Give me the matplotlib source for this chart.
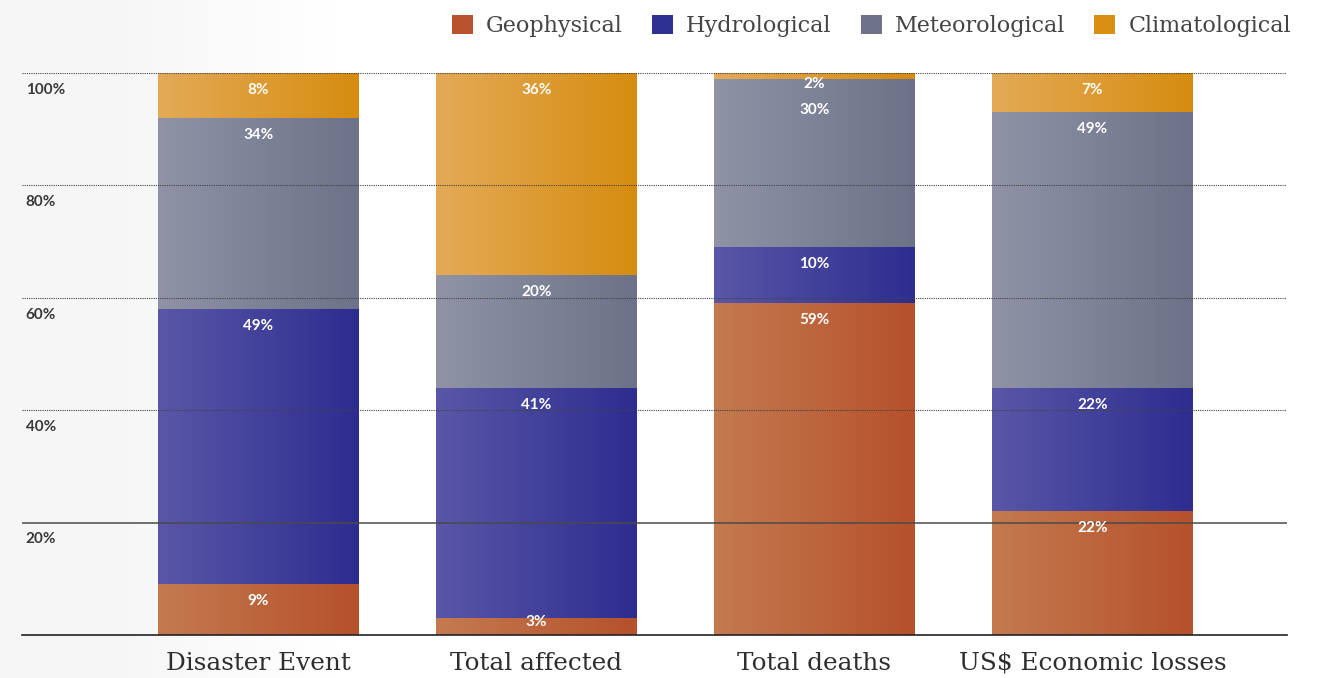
"""
Share of disasters, people affected, deaths and economic losses by hazard type
"""
import numpy as np
import matplotlib
matplotlib.use('Agg')
import matplotlib.pyplot as plt
from matplotlib.colors import LinearSegmentedColormap
from matplotlib.patches import Patch

# Data (percent of each total)
categories = ['Disaster Event', 'Total affected', 'Total deaths', 'US$ Economic losses']
hazards = ['Geophysical', 'Hydrological', 'Meteorological', 'Climatological']
geophysical = [9, 3, 59, 22]
hydrological = [49, 41, 10, 22]
meteorological = [34, 20, 30, 49]
climatological = [8, 36, 2, 7]
y_ticks = [20, 40, 60, 80, 100]
y_tick_labels = ['20%', '40%', '60%', '80%', '100%']

# (left, right) gradient colours and flat legend colour per hazard
gradients = {
    'Geophysical': ('#c47a4f', '#b5512d'),
    'Hydrological': ('#5a57a7', '#2c2d8f'),
    'Meteorological': ('#9093a6', '#6d7288'),
    'Climatological': ('#e3aa57', '#d68c10'),
}
legend_colors = {
    'Geophysical': '#b9532f',
    'Hydrological': '#2e3192',
    'Meteorological': '#6e7389',
    'Climatological': '#d98e14',
}

W, H, DPI = 1326, 678, 100
fig = plt.figure(figsize=(W / DPI, H / DPI), dpi=DPI)
fig.patch.set_facecolor('white')

# subtle grey-to-white page background on the left
bg = fig.add_axes([0, 0, 1, 1], zorder=-10)
xs = np.linspace(0, 1, 600)
bg_grad = np.clip((xs - 0.08) / 0.17, 0, 1)[None, :]
bg.imshow(bg_grad, aspect='auto', extent=[0, 1, 0, 1],
          cmap=LinearSegmentedColormap.from_list('bg', ['#f6f6f6', '#ffffff']))
bg.axis('off')

ax = fig.add_axes([22 / W, 1 - 635 / H, (1287 - 22) / W, (635 - 73) / H])
ax.set_facecolor('none')
ymax = 100

x = np.arange(len(categories))
bar_width = 0.72
series = [geophysical, hydrological, meteorological, climatological]
ramp = np.linspace(0, 1, 256)[None, :]

# label positions: a bit below each segment top, pushed down if crowded
bottom = np.zeros(len(categories))
label_pos = []
for name, values in zip(hazards, series):
    values = np.array(values, dtype=float)
    bars = ax.bar(x, values, bar_width, bottom=bottom, color='none',
                  edgecolor='none', zorder=2)
    cmap = LinearSegmentedColormap.from_list(name, gradients[name])
    for bar in bars:
        bx, by = bar.get_x(), bar.get_y()
        bw, bh = bar.get_width(), bar.get_height()
        # keep the gradient inside the plot (stack can exceed 100 by rounding)
        ax.imshow(ramp, cmap=cmap, aspect='auto', zorder=2, interpolation='bilinear',
                  extent=[bx, bx + bw, by, min(by + bh, ymax)])
    tops = bottom + values
    label_pos.append([(xi, max(top - 3, 2.4), v) for xi, top, v in zip(x, tops, values)])
    bottom = tops

min_gap = 4.5
for i in range(len(categories)):
    for k in range(len(hazards) - 2, -1, -1):
        xi, y, v = label_pos[k][i]
        y_above = label_pos[k + 1][i][1]
        if y_above - y < min_gap:
            label_pos[k][i] = (xi, y_above - min_gap, v)

for row in label_pos:
    for xi, y, v in row:
        ax.text(xi, y, f'{v:.0f}%', ha='center', va='center',
                color='white', fontsize=11, fontweight='bold', family='Lato', zorder=5)

ax.set_xlim(-0.849, 3.70)
ax.set_ylim(0, ymax)

# gridlines drawn over the bars
for t in y_ticks:
    if t == 20:
        ax.axhline(t, color='#4a4a4a', lw=1.1, zorder=4)
    else:
        ax.axhline(t, color='#444444', lw=0.8, linestyle=(0, (1, 1)), zorder=4)

# y labels sit just below their gridlines, inside the plot
for t, lab in zip(y_ticks, y_tick_labels):
    ax.text(0.003, t - 3, lab, transform=ax.get_yaxis_transform(), ha='left',
            va='center', fontsize=11, fontweight='bold', color='#3a3a3a', family='Lato')

ax.set_yticks([])
ax.set_xticks(x)
ax.set_xticklabels(categories, family='DejaVu Serif', fontsize=17.8, color='#2e2e2e')
ax.tick_params(axis='x', length=0, pad=12)
for side in ['top', 'left', 'right']:
    ax.spines[side].set_visible(False)
ax.spines['bottom'].set_color('#222222')
ax.spines['bottom'].set_linewidth(1.2)
ax.spines['bottom'].set_zorder(4)

handles = [Patch(facecolor=legend_colors[h], edgecolor='none') for h in hazards]
fig.legend(handles, hazards, loc='upper right', bbox_to_anchor=(0.989, 1.008), ncol=4,
           frameon=False, prop={'family': 'DejaVu Serif', 'size': 16},
           handlelength=0.95, handleheight=0.95, handletextpad=0.6, columnspacing=1.3,
           labelcolor='#444444')

fig.savefig('out.png', dpi=DPI)
